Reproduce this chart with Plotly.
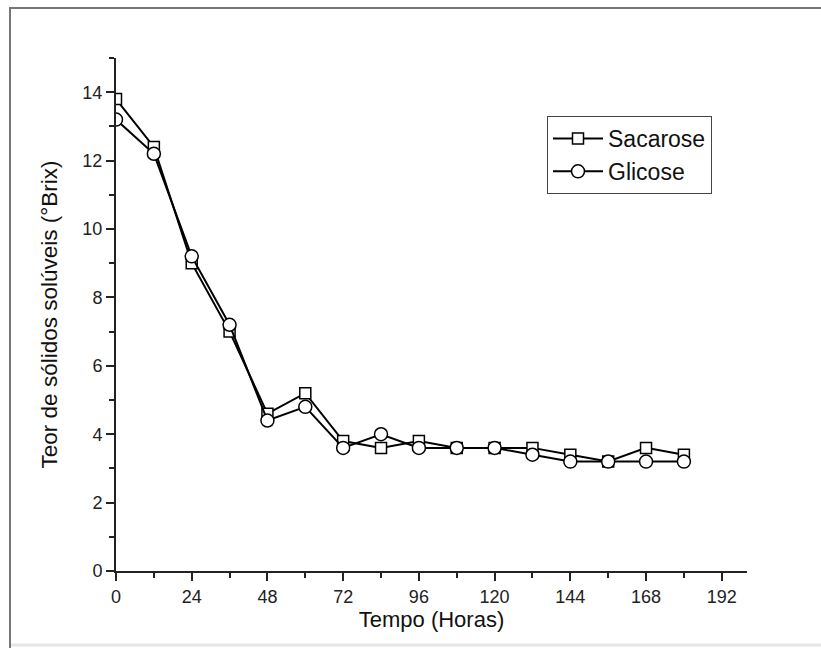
import plotly.graph_objects as go

tempo = [0, 12, 24, 36, 48, 60, 72, 84, 96, 108, 120, 132, 144, 156, 168, 180]
sacarose = [13.8, 12.4, 9.0, 7.0, 4.6, 5.2, 3.8, 3.6, 3.8, 3.6, 3.6, 3.6, 3.4, 3.2, 3.6, 3.4]
glicose = [13.2, 12.2, 9.2, 7.2, 4.4, 4.8, 3.6, 4.0, 3.6, 3.6, 3.6, 3.4, 3.2, 3.2, 3.2, 3.2]
x_ticks = [0, 24, 48, 72, 96, 120, 144, 168, 192]
y_ticks = [0, 2, 4, 6, 8, 10, 12, 14]

FONT = "Liberation Sans, Arial, sans-serif"

fig = go.Figure()
fig.add_trace(go.Scatter(
    x=tempo, y=sacarose, name="Sacarose", mode="lines+markers",
    line=dict(color="black", width=2),
    marker=dict(symbol="square", size=11, color="white", line=dict(color="black", width=1.5)),
))
fig.add_trace(go.Scatter(
    x=tempo, y=glicose, name="Glicose", mode="lines+markers",
    line=dict(color="black", width=2),
    marker=dict(symbol="circle", size=13, color="white", line=dict(color="black", width=1.5)),
))

axis_common = dict(
    showgrid=False, zeroline=False, showline=True, linecolor="#222", linewidth=2,
    ticks="outside", tickcolor="#222", tickwidth=2, ticklen=8,
    tickfont=dict(family=FONT, size=18, color="#222"),
    mirror=False, automargin=False,
)

fig.update_xaxes(
    range=[0, 200], tickvals=x_ticks, ticktext=[str(v) for v in x_ticks],
    title=dict(text="Tempo (Horas)", font=dict(family=FONT, size=22, color="#111"), standoff=0),
    minor=dict(dtick=12, tick0=0, ticks="outside", ticklen=5, tickwidth=2, tickcolor="#222"),
    **axis_common,
)
fig.update_yaxes(
    range=[0, 15], tickvals=y_ticks, ticktext=[str(v) for v in y_ticks],
    title=dict(text="Teor de sólidos solúveis (°Brix)", font=dict(family=FONT, size=22.5, color="#111"), standoff=18),
    minor=dict(dtick=1, tick0=0, ticks="outside", ticklen=5, tickwidth=2, tickcolor="#222"),
    **axis_common,
)

# outer frame lines (image border)
L, R, T, B = 116, 74, 58, 77
W, H = 821, 648
pw, ph = W - L - R, H - T - B
def px(x):
    return (x - L) / pw
def py(y):
    return (H - B - y) / ph

fig.add_shape(type="line", xref="paper", yref="paper", x0=px(10), x1=px(10), y0=py(7), y1=py(648),
              line=dict(color="#777", width=2))
fig.add_shape(type="line", xref="paper", yref="paper", x0=px(9), x1=px(830), y0=py(8), y1=py(8),
              line=dict(color="#777", width=2))
fig.add_shape(type="line", xref="paper", yref="paper", x0=px(11), x1=px(830), y0=py(645), y1=py(645),
              line=dict(color="#e6e6e6", width=3))

fig.update_layout(
    width=W, height=H,
    margin=dict(l=L, r=R, t=T, b=B, autoexpand=False),
    paper_bgcolor="white", plot_bgcolor="white",
    showlegend=True,
    legend=dict(
        x=px(547), y=py(116), xanchor="left", yanchor="top",
        bordercolor="#444", borderwidth=1, bgcolor="white",
        font=dict(family=FONT, size=23, color="#111"),
        tracegroupgap=0, itemwidth=50,
    ),
)

fig.write_html(
    "out.html",
    config={"displayModeBar": False},
    post_script="document.body.style.margin='0px';document.body.style.overflow='hidden';",
)
